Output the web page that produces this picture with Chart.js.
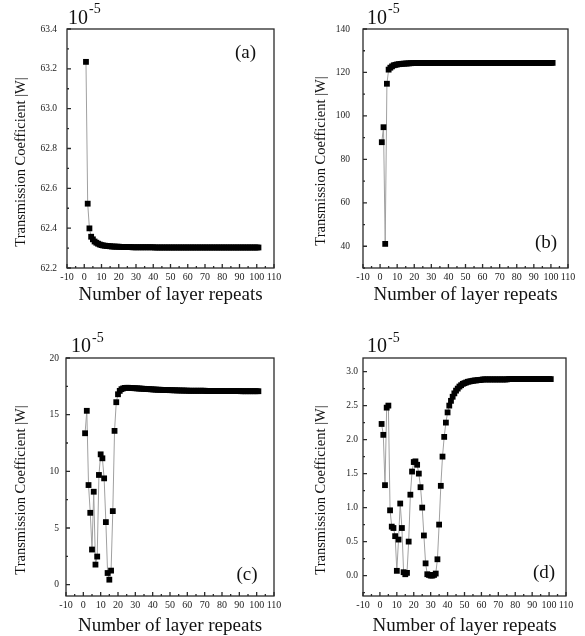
<!DOCTYPE html>
<html>
<head>
<meta charset="utf-8">
<title>Transmission coefficient vs number of layer repeats</title>
<script src="https://cdn.jsdelivr.net/npm/chart.js@4.4.1/dist/chart.umd.min.js"></script>
<style>
  body { margin: 0; background: #fff; font-family: "Liberation Serif", "Times New Roman", serif; color: #111; }
  #figure { position: relative; width: 585px; height: 636px; overflow: hidden; }
  #figure canvas { position: absolute; }
  .ytitle { position: absolute; font-size: 14.5px; line-height: 1; white-space: nowrap; transform: translate(-50%, -50%) rotate(-90deg); }
  .exp { position: absolute; font-size: 20px; line-height: 1; white-space: nowrap; }
  .exp sup { font-size: 14px; line-height: 0; vertical-align: 10.5px; margin-left: 1px; }
  .tag { position: absolute; font-size: 19px; line-height: 1; white-space: nowrap; }
</style>
</head>
<body>
<div id="figure">
  <canvas id="chart-a" width="292" height="318" style="left:0;top:0"></canvas>
  <canvas id="chart-b" width="293" height="318" style="left:292px;top:0"></canvas>
  <canvas id="chart-c" width="292" height="318" style="left:0;top:318px"></canvas>
  <canvas id="chart-d" width="293" height="318" style="left:292px;top:318px"></canvas>

  <div class="ytitle" style="left:20px;top:162px">Transmission Coefficient |W|</div>
  <div class="ytitle" style="left:320px;top:161px">Transmission Coefficient |W|</div>
  <div class="ytitle" style="left:20px;top:490px">Transmission Coefficient |W|</div>
  <div class="ytitle" style="left:320px;top:490px">Transmission Coefficient |W|</div>

  <div class="exp" style="left:68px;top:6.5px">10<sup>-5</sup></div>
  <div class="exp" style="left:367px;top:6.5px">10<sup>-5</sup></div>
  <div class="exp" style="left:71px;top:335px">10<sup>-5</sup></div>
  <div class="exp" style="left:367px;top:335px">10<sup>-5</sup></div>

  <div class="tag" style="left:235px;top:42.4px">(a)</div>
  <div class="tag" style="left:535px;top:232.4px">(b)</div>
  <div class="tag" style="left:236.5px;top:564px">(c)</div>
  <div class="tag" style="left:533px;top:562.4px">(d)</div>
</div>

<script>
// number of layer repeats (shared x values)
const layers = [
  1, 2, 3, 4, 5, 6, 7, 8, 9, 10,
  11, 12, 13, 14, 15, 16, 17, 18, 19, 20,
  21, 22, 23, 24, 25, 26, 27, 28, 29, 30,
  31, 32, 33, 34, 35, 36, 37, 38, 39, 40,
  41, 42, 43, 44, 45, 46, 47, 48, 49, 50,
  51, 52, 53, 54, 55, 56, 57, 58, 59, 60,
  61, 62, 63, 64, 65, 66, 67, 68, 69, 70,
  71, 72, 73, 74, 75, 76, 77, 78, 79, 80,
  81, 82, 83, 84, 85, 86, 87, 88, 89, 90,
  91, 92, 93, 94, 95, 96, 97, 98, 99, 100,
  101
];

const xTicks = [-10, 0, 10, 20, 30, 40, 50, 60, 70, 80, 90, 100, 110];

// panel (a), units of 1e-5
const aValues = [
  63.235, 62.523, 62.399, 62.357, 62.344, 62.333, 62.327, 62.322, 62.318, 62.315,
  62.313, 62.312, 62.311, 62.310, 62.309, 62.308, 62.308, 62.307, 62.307, 62.307,
  62.306, 62.306, 62.306, 62.305, 62.305, 62.305, 62.305, 62.304, 62.304, 62.304,
  62.304, 62.304, 62.304, 62.304, 62.304, 62.304, 62.304, 62.304, 62.304, 62.304,
  62.303, 62.303, 62.303, 62.303, 62.303, 62.303, 62.303, 62.303, 62.303, 62.303,
  62.303, 62.303, 62.303, 62.303, 62.303, 62.303, 62.303, 62.303, 62.303, 62.303,
  62.303, 62.303, 62.303, 62.303, 62.303, 62.303, 62.303, 62.303, 62.303, 62.303,
  62.303, 62.303, 62.303, 62.303, 62.303, 62.303, 62.303, 62.303, 62.303, 62.303,
  62.303, 62.303, 62.303, 62.303, 62.303, 62.303, 62.303, 62.303, 62.303, 62.303,
  62.303, 62.303, 62.303, 62.303, 62.303, 62.303, 62.303, 62.303, 62.303, 62.303,
  62.303
];
const aYTicks = [62.2, 62.4, 62.6, 62.8, 63.0, 63.2, 63.4];

// panel (b)
const bValues = [
  87.9, 94.8, 41.1, 114.8, 121.3, 122.2, 122.8, 123.3, 123.5, 123.7,
  123.8, 123.9, 124.0, 124.05, 124.1, 124.15, 124.2, 124.25, 124.3, 124.3,
  124.35, 124.35, 124.35, 124.35, 124.35, 124.35, 124.35, 124.35, 124.35, 124.35,
  124.4, 124.4, 124.4, 124.4, 124.4, 124.4, 124.4, 124.4, 124.4, 124.4,
  124.4, 124.4, 124.4, 124.4, 124.4, 124.4, 124.4, 124.4, 124.4, 124.4,
  124.4, 124.4, 124.4, 124.4, 124.4, 124.4, 124.4, 124.4, 124.4, 124.4,
  124.4, 124.4, 124.4, 124.4, 124.4, 124.4, 124.4, 124.4, 124.4, 124.4,
  124.4, 124.4, 124.4, 124.4, 124.4, 124.4, 124.4, 124.4, 124.4, 124.4,
  124.4, 124.4, 124.4, 124.4, 124.4, 124.4, 124.4, 124.4, 124.4, 124.4,
  124.4, 124.4, 124.4, 124.4, 124.4, 124.4, 124.4, 124.4, 124.4, 124.4,
  124.4
];
const bYTicks = [40, 60, 80, 100, 120, 140];

// panel (c)
const cValues = [
  13.36, 15.34, 8.79, 6.34, 3.10, 8.20, 1.77, 2.48, 9.68, 11.50,
  11.15, 9.38, 5.52, 1.03, 0.44, 1.24, 6.49, 13.57, 16.10, 16.80,
  17.10, 17.25, 17.32, 17.36, 17.37, 17.37, 17.36, 17.35, 17.34, 17.33,
  17.32, 17.31, 17.30, 17.29, 17.28, 17.27, 17.26, 17.25, 17.24, 17.23,
  17.22, 17.21, 17.20, 17.20, 17.19, 17.18, 17.18, 17.17, 17.17, 17.16,
  17.16, 17.15, 17.15, 17.14, 17.14, 17.13, 17.13, 17.13, 17.12, 17.12,
  17.11, 17.11, 17.11, 17.11, 17.11, 17.11, 17.11, 17.11, 17.11, 17.11,
  17.09, 17.09, 17.09, 17.09, 17.09, 17.09, 17.09, 17.09, 17.09, 17.09,
  17.08, 17.08, 17.08, 17.08, 17.08, 17.08, 17.08, 17.08, 17.08, 17.08,
  17.07, 17.07, 17.07, 17.07, 17.07, 17.07, 17.07, 17.07, 17.07, 17.07,
  17.07
];
const cYTicks = [0, 5, 10, 15, 20];

// panel (d)
const dValues = [
  2.23, 2.07, 1.33, 2.47, 2.50, 0.96, 0.72, 0.70, 0.58, 0.07,
  0.53, 1.06, 0.70, 0.05, 0.02, 0.04, 0.50, 1.19, 1.53, 1.67,
  1.68, 1.63, 1.50, 1.30, 1.00, 0.59, 0.18, 0.02, 0.01, 0.00,
  0.00, 0.01, 0.03, 0.24, 0.75, 1.32, 1.75, 2.04, 2.25, 2.40,
  2.50, 2.57, 2.63, 2.68, 2.72, 2.75, 2.78, 2.80, 2.82, 2.83,
  2.84, 2.85, 2.855, 2.86, 2.865, 2.87, 2.87, 2.875, 2.875, 2.88,
  2.885, 2.885, 2.885, 2.885, 2.885, 2.885, 2.885, 2.885, 2.885, 2.885,
  2.885, 2.885, 2.885, 2.885, 2.885, 2.89, 2.89, 2.89, 2.89, 2.89,
  2.89, 2.89, 2.89, 2.89, 2.89, 2.89, 2.89, 2.89, 2.89, 2.89,
  2.89, 2.89, 2.89, 2.89, 2.89, 2.89, 2.89, 2.89, 2.89, 2.89,
  2.89
];
const dYTicks = [0.0, 0.5, 1.0, 1.5, 2.0, 2.5, 3.0];

Chart.defaults.font.family = '"Liberation Serif", "Times New Roman", serif';
Chart.defaults.color = '#222';

// box around the plot + inward major/minor ticks on bottom and left
const axisFrame = {
  id: 'axisFrame',
  afterDraw(chart, args, opts) {
    const { ctx, chartArea: area, scales: { x, y } } = chart;
    ctx.save();
    ctx.strokeStyle = '#2a2a2a';
    ctx.lineWidth = 1.3;
    ctx.beginPath();
    for (let k = 0; k <= (x.max - x.min) / opts.xMinor + 1e-6; k++) {
      const v = x.min + k * opts.xMinor;
      const px = x.getPixelForValue(v);
      const len = k % 2 === 0 ? 4 : 2;
      ctx.moveTo(px, area.bottom);
      ctx.lineTo(px, area.bottom - len);
    }
    const first = opts.yTicks[0];
    for (let k = -4; k < 200; k++) {
      const v = first + k * opts.yMinor;
      if (v < y.min - 1e-9) continue;
      if (v > y.max + 1e-9) break;
      const py = y.getPixelForValue(v);
      const len = Math.abs(k) % 2 === 0 ? 4 : 2;
      ctx.moveTo(area.left, py);
      ctx.lineTo(area.left + len, py);
    }
    ctx.stroke();
    ctx.strokeRect(area.left, area.top, area.right - area.left, area.bottom - area.top);
    ctx.restore();
  }
};

const panels = [
  { id: 'chart-a', values: aValues, yMin: 62.2, yMax: 63.4, yTicks: aYTicks, yMinor: 0.1, digits: 1,
    pad: { top: 29, right: 18 }, yWidth: 67, xHeight: 50, yLabelPad: 10, xTitlePad: 13 },
  { id: 'chart-b', values: bValues, yMin: 30, yMax: 140, yTicks: bYTicks, yMinor: 10, digits: 0,
    pad: { top: 29, right: 17 }, yWidth: 71, xHeight: 50, yLabelPad: 13, xTitlePad: 13 },
  { id: 'chart-c', values: cValues, yMin: -1, yMax: 20, yTicks: cYTicks, yMinor: 2.5, digits: 0,
    pad: { top: 40, right: 18 }, yWidth: 66, xHeight: 40, yLabelPad: 7, xTitlePad: 0 },
  { id: 'chart-d', values: dValues, yMin: -0.3, yMax: 3.2, yTicks: dYTicks, yMinor: 0.25, digits: 1,
    pad: { top: 40, right: 19 }, yWidth: 71, xHeight: 40, yLabelPad: 5, xTitlePad: 0 }
];

panels.forEach(p => {
  new Chart(document.getElementById(p.id), {
    type: 'line',
    data: {
      datasets: [{
        data: p.values.map((v, i) => ({ x: layers[i], y: v })),
        borderColor: '#a0a0a0',
        borderWidth: 1,
        pointStyle: 'rect',
        pointRadius: 4.1,
        pointBackgroundColor: '#000',
        pointBorderColor: '#000',
        pointBorderWidth: 0
      }]
    },
    options: {
      responsive: false,
      animation: false,
      events: [],
      layout: { padding: { left: 0, top: p.pad.top, right: p.pad.right, bottom: 0 } },
      plugins: {
        legend: { display: false },
        tooltip: { enabled: false },
        axisFrame: { xMinor: 5, yMinor: p.yMinor, yTicks: p.yTicks }
      },
      scales: {
        x: {
          type: 'linear',
          min: -10,
          max: 110,
          grid: { display: false, drawTicks: false },
          border: { display: false },
          afterBuildTicks: s => { s.ticks = xTicks.map(v => ({ value: v })); },
          ticks: { padding: 3, autoSkip: false, maxRotation: 0, font: { size: 10 } },
          title: {
            display: true,
            text: 'Number of layer repeats',
            color: '#111',
            font: { size: 19, lineHeight: 1 },
            padding: { top: 0, bottom: p.xTitlePad }
          },
          afterFit: s => { s.height = p.xHeight; }
        },
        y: {
          type: 'linear',
          min: p.yMin,
          max: p.yMax,
          grid: { display: false, drawTicks: false },
          border: { display: false },
          afterBuildTicks: s => { s.ticks = p.yTicks.map(v => ({ value: v })); },
          ticks: { padding: p.yLabelPad, font: { size: 9.5 }, callback: v => Number(v).toFixed(p.digits) },
          afterFit: s => { s.width = p.yWidth; }
        }
      }
    },
    plugins: [axisFrame]
  });
});
</script>
</body>
</html>
